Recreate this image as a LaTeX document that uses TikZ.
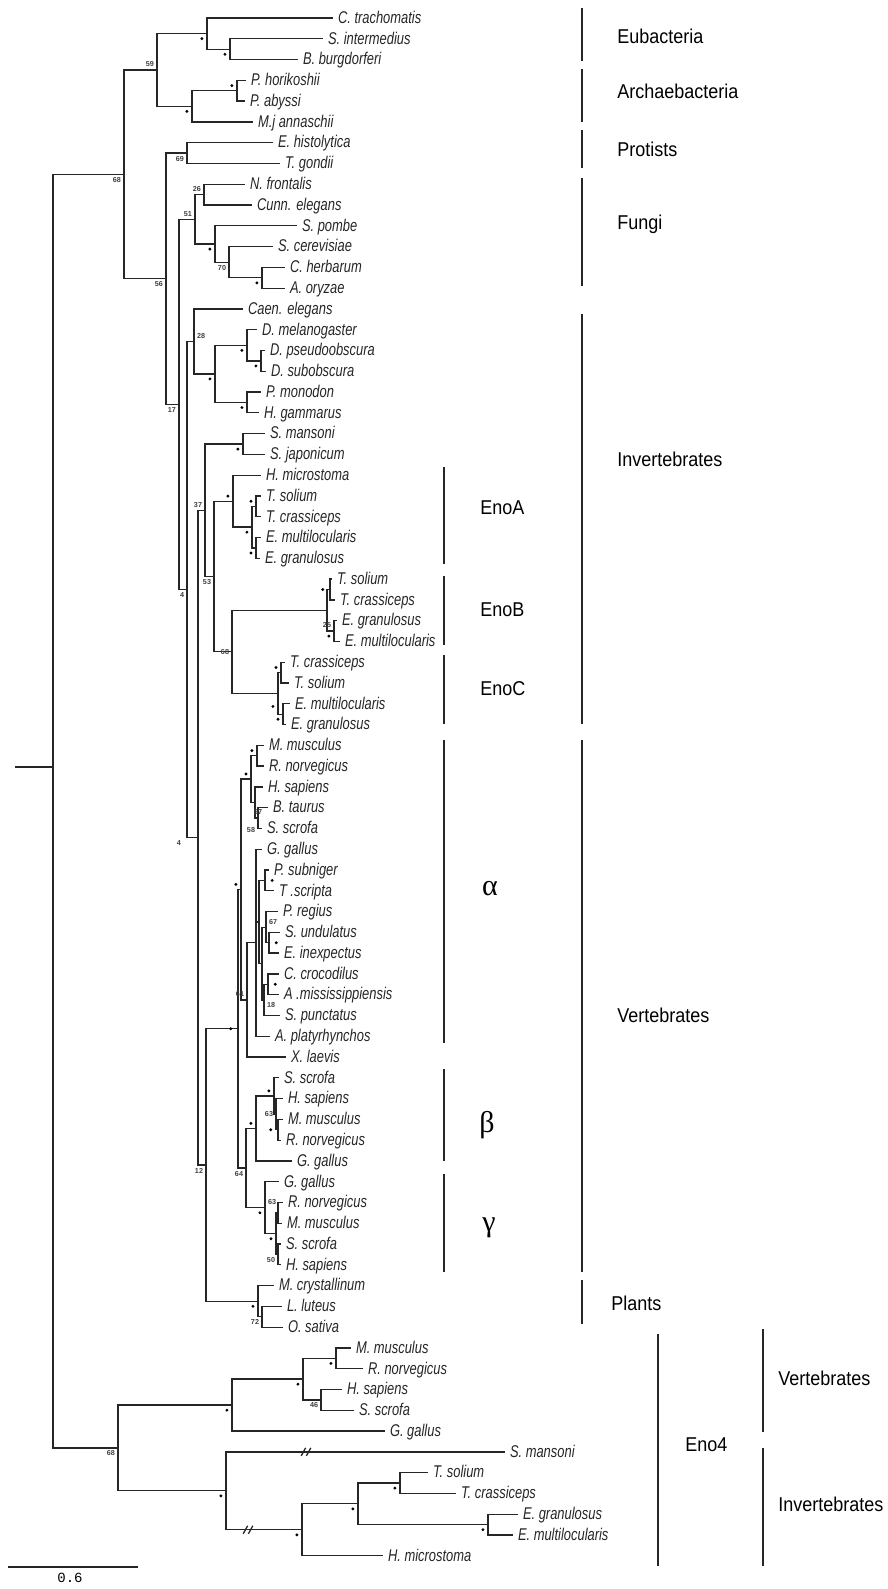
\documentclass[tikz,border=0pt]{standalone}
\usepackage{fontspec}
\setmainfont{Liberation Sans}
\setmonofont{Liberation Mono}
\newfontfamily\leaffont[FakeStretch=0.76]{Liberation Sans}
\newfontfamily\grpfont[FakeStretch=0.9]{Liberation Sans}
\newfontfamily\grkfont{Liberation Serif}
\usetikzlibrary{positioning}

\begin{document}
\begin{tikzpicture}[x=0.5pt, y=-10.39pt,
    br/.style={draw=black!85, line width=0.65pt},
    leaf/.style={anchor=mid west, inner sep=0pt, xshift=2.3pt, text=black!85, font=\leaffont\itshape\fontsize{8.5}{9}\selectfont},
    dot/.style={circle, fill=black, inner sep=0pt, minimum size=1.6pt, outer sep=2.8pt},
    bs/.style={inner sep=1.3pt, text=black!75, font=\bfseries\fontsize{3.6}{4}\selectfont},
    grpbar/.style={draw=black!85, line width=1.2pt},
    grp/.style={anchor=west, inner sep=0pt, font=\grpfont\fontsize{10}{12}\selectfont},
    grk/.style={inner sep=0pt, font=\grkfont\fontsize{15}{15}\selectfont}]
  \useasboundingbox (0,0.1338) rectangle (887,76.60);

  % internal nodes (x in px, y in leaf rows)
  \foreach \n/\x/\y in {eubs/230/2.5, eub/207/1.75, pyro/237/4.5, arch/192/5.25, prok/157/3.5, prot/187/7.5,
      nc/204/9.5, fun3/262/13.5, fun2/229/12.75, fun1/215/11.875, fun0/195/10.6875,
      dros2/261/17.5, dros/247/16.75, crus/247/19.5, arth/215/18.125, ecdy/194/16.5625,
      schis/243/21.5, taeA/256/24.5, echA/256/26.5, enoAb/252/25.5, enoA/233/24.25,
      taeB/330/28.5, echB/334/30.5, enoB/327/29.5, taeC/281/32.5, echC/283/34.5, enoC/278/33.5,
      enoBC/232/31.5, cest/214/27.875, plat/205/24.6875,
      mr/257/36.5, bst/258/39.5, hbs/255/38.75, mam/251/37.625,
      pt/265/42.5, se/269/45.5, pr/266/44.75, ca/268/47.5, cas/264/48.25, rep1/262/46.5, rep2/259/44.5,
      sau/256/45.5, tetr/247/48.25, alph/241/42.9375,
      bm2/278/54.5, bm1/276/53.75, bm0/274/52.875, bet/256/54.4375,
      gm1/278/58.5, gm2/278/60.5, gm0/276/59.5, gam/265/58.25, bg/246/56.344, vert/238/49.64,
      lo/262/63.5, pl/258/62.75, vp/206/56.195, bil/198/40.441, bil2/187/28.502, euk2/179/19.595,
      euk/166/13.547, top/124/8.524,
      v2/336/65.5, v3/321/67.5, v1/303/66.5, v0/232/67.75, i3/400/71.5, i4/488/73.5, i2/358/72.5,
      i1/302/73.75, i0/226/71.875, eno4/118/69.8125, root/53/37.04, base/15/37.04}
    \coordinate (\n) at (\x,\y);

  % leaves
  \foreach \i/\x/\t in {1/333/{C. trachomatis}, 2/323/{S. intermedius}, 3/298/{B. burgdorferi},
      4/246/{P. horikoshii}, 5/245/{P. abyssi}, 6/253/{M.j annaschii}, 7/273/{E. histolytica},
      8/280/{T. gondii}, 9/245/{N. frontalis}, 10/252/{Cunn. elegans}, 11/297/{S. pombe},
      12/273/{S. cerevisiae}, 13/285/{C. herbarum}, 14/285/{A. oryzae}, 15/243/{Caen. elegans},
      16/257/{D. melanogaster}, 17/265/{D. pseudoobscura}, 18/266/{D. subobscura}, 19/261/{P. monodon},
      20/259/{H. gammarus}, 21/265/{S. mansoni}, 22/265/{S. japonicum}, 23/261/{H. microstoma},
      24/261/{T. solium}, 25/261/{T. crassiceps}, 26/261/{E. multilocularis}, 27/260/{E. granulosus},
      28/332/{T. solium}, 29/335/{T. crassiceps}, 30/337/{E. granulosus}, 31/340/{E. multilocularis},
      32/285/{T. crassiceps}, 33/289/{T. solium}, 34/290/{E. multilocularis}, 35/286/{E. granulosus},
      36/264/{M. musculus}, 37/264/{R. norvegicus}, 38/263/{H. sapiens}, 39/268/{B. taurus},
      40/262/{S. scrofa}, 41/262/{G. gallus}, 42/269/{P. subniger}, 43/274/{T .scripta},
      44/278/{P. regius}, 45/280/{S. undulatus}, 46/279/{E. inexpectus}, 47/279/{C. crocodilus},
      48/279/{A .mississippiensis}, 49/280/{S. punctatus}, 50/270/{A. platyrhynchos}, 51/286/{X. laevis},
      52/279/{S. scrofa}, 53/283/{H. sapiens}, 54/283/{M. musculus}, 55/281/{R. norvegicus},
      56/292/{G. gallus}, 57/279/{G. gallus}, 58/283/{R. norvegicus}, 59/282/{M. musculus},
      60/281/{S. scrofa}, 61/281/{H. sapiens}, 62/274/{M. crystallinum}, 63/282/{L. luteus},
      64/283/{O. sativa}, 65/351/{M. musculus}, 66/363/{R. norvegicus}, 67/342/{H. sapiens},
      68/354/{S. scrofa}, 69/385/{G. gallus}, 70/505/{S. mansoni}, 71/428/{T. solium},
      72/456/{T. crassiceps}, 73/518/{E. granulosus}, 74/513/{E. multilocularis}, 75/383/{H. microstoma}}
    {\coordinate (l\i) at (\x,\i); \node[leaf] (t\i) at (l\i) {\t};}

  % branches
  \foreach \p/\c in {eubs/l2, eubs/l3, eub/l1, eub/eubs, pyro/l4, pyro/l5, arch/pyro, arch/l6, prok/eub, prok/arch,
      prot/l7, prot/l8, nc/l9, nc/l10, fun3/l13, fun3/l14, fun2/l12, fun2/fun3, fun1/l11, fun1/fun2, fun0/nc, fun0/fun1,
      dros2/l17, dros2/l18, dros/l16, dros/dros2, crus/l19, crus/l20, arth/dros, arth/crus, ecdy/l15, ecdy/arth,
      schis/l21, schis/l22, taeA/l24, taeA/l25, echA/l26, echA/l27, enoAb/taeA, enoAb/echA, enoA/l23, enoA/enoAb,
      taeB/l28, taeB/l29, echB/l30, echB/l31, enoB/taeB, enoB/echB, taeC/l32, taeC/l33, echC/l34, echC/l35,
      enoC/taeC, enoC/echC, enoBC/enoB, enoBC/enoC, cest/enoA, cest/enoBC, plat/schis, plat/cest,
      mr/l36, mr/l37, bst/l39, bst/l40, hbs/l38, hbs/bst, mam/mr, mam/hbs,
      pt/l42, pt/l43, se/l45, se/l46, pr/l44, pr/se, ca/l47, ca/l48, cas/ca, cas/l49, rep1/pr, rep1/cas,
      rep2/pt, rep2/rep1, sau/l41, sau/rep2, sau/l50, tetr/sau, tetr/l51, alph/mam, alph/tetr,
      bm2/l54, bm2/l55, bm1/l53, bm1/bm2, bm0/l52, bm0/bm1, bet/bm0, bet/l56,
      gm1/l58, gm1/l59, gm2/l60, gm2/l61, gm0/gm1, gm0/gm2, gam/l57, gam/gm0, bg/bet, bg/gam, vert/alph, vert/bg,
      lo/l63, lo/l64, pl/l62, pl/lo, vp/vert, vp/pl, bil/plat, bil/vp, bil2/ecdy, bil2/bil, euk2/fun0, euk2/bil2,
      euk/prot, euk/euk2, top/prok, top/euk,
      v2/l65, v2/l66, v3/l67, v3/l68, v1/v2, v1/v3, v0/v1, v0/l69, i3/l71, i3/l72, i4/l73, i4/l74,
      i2/i3, i2/i4, i1/i2, i1/l75, i0/l70, i0/i1, eno4/v0, eno4/i0, root/top, root/eno4}
    \draw[br] (\p) |- (\c);
  \draw[br, line width=0.9pt] (base) -- (root);

  % breaks on the long branches
  \coordinate (cut1) at (306,70); \coordinate (cut2) at (248,73.75);
  \foreach \c in {cut1, cut2} {
    \draw[br] ([shift={(-2.4pt,-2pt)}]\c) -- ++(2.2pt,4pt);
    \draw[br] ([shift={(0.2pt,-2pt)}]\c) -- ++(2.2pt,4pt);}

  % supported nodes
  \foreach \n/\a in {eub/north east, eubs/north east, pyro/south east, arch/north east, fun1/north east,
      fun3/north east, arth/north east, dros/north east, dros2/north east, crus/north east, schis/north east,
      enoA/south east, taeA/south east, enoAb/north east, echA/north east, taeB/east, echB/north east,
      taeC/south east, echC/north east, mr/south east, mam/south east, alph/south east, pt/west, se/west,
      ca/west, bm0/south east, bm2/east, bet/south east, gam/north east, gm0/north east, vert/east,
      pl/north east, v0/north east, v1/north east, v2/north east, i0/north east, i1/north east,
      i2/north east, i3/north east, i4/north east}
    \node[dot, anchor=\a] at (\n) {};
  \node[dot, anchor=north east, yshift=-4pt] at (enoC) {};

  % bootstrap values
  \foreach \n/\a/\v in {top/north east/68, prok/south east/59, euk/north east/56, prot/north east/69,
      nc/south east/26, fun0/south east/51, fun2/north east/70, euk2/north east/17, ecdy/south west/28,
      plat/south east/37, cest/north east/53, bil2/north east/4, enoBC/east/68, echB/south east/25,
      tetr/south east/61, pr/south west/67, cas/north west/18, bm1/east/63, bg/north east/64,
      gam/south west/63, gm2/north east/50, vp/north east/12, lo/north east/72, v3/north east/46,
      eno4/north east/68}
    \node[bs, anchor=\a] at (\n) {\v};
  \node[bs, anchor=north east, xshift=-7pt] at (bil) {4};
  \node[bs, anchor=south] at (bst) {57};
  \node[bs, anchor=north east, yshift=-3pt] at (bst) {58};

  % groups
  \foreach \a/\b in {0.52/3.07, 3.45/6.0, 6.39/8.22, 8.70/13.90, 15.24/34.97, 35.75/61.35, 61.73/63.85}
    \draw[grpbar] (582,\a) -- (582,\b);
  \foreach \a/\b in {22.61/27.27, 27.85/31.17, 31.65/34.97, 35.75/50.33, 51.58/56.0, 56.63/61.35}
    \draw[grpbar] (444,\a) -- (444,\b);
  \draw[grpbar, line width=1.4pt] (658,64.33) -- (658,75.49);
  \foreach \a/\b in {64.09/69.05, 69.82/75.49}
    \draw[grpbar, line width=1.4pt] (763,\a) -- (763,\b);

  \node[grp] (eubac) at (617,1.866) {Eubacteria};
  \node[grp] (archae) at (617,4.513) {Archaebacteria};
  \node[grp] (protis) at (617,7.304) {Protists};
  \node[grp] (fungi) at (617,10.91) {Fungi};
  \node[grp] (invert) at (617,22.22) {Invertebrates};
  \node[grp] (vertb) at (617,48.98) {Vertebrates};
  \node[grp] (plants) at (611,62.84) {Plants};
  \node[grp] (enoAl) at (480,24.58) {EnoA};
  \node[grp] (enoBl) at (480,29.49) {EnoB};
  \node[grp] (enoCl) at (480,33.29) {EnoC};
  \node[grk] (alpha) at (490,42.87) {α};
  \node[grk] (beta) at (487,54.27) {β};
  \node[grk] (gamma) at (489,59.23) {γ};
  \node[grp] (eno4l) at (685,69.67) {Eno4};
  \node[grp] (vert4) at (778,66.45) {Vertebrates};
  \node[grp] (invert4) at (778,72.51) {Invertebrates};

  % scale
  \coordinate (sb0) at (8,75.54); \coordinate (sb1) at (138,75.54); \coordinate (sbm) at (70,75.54);
  \draw[draw=black!85, line width=1pt] (sb0) -- (sb1);
  \node[inner sep=0pt, font=\ttfamily\fontsize{7}{8}\selectfont, below=3pt of sbm] (sblbl) {0.6};
\end{tikzpicture}
\end{document}
